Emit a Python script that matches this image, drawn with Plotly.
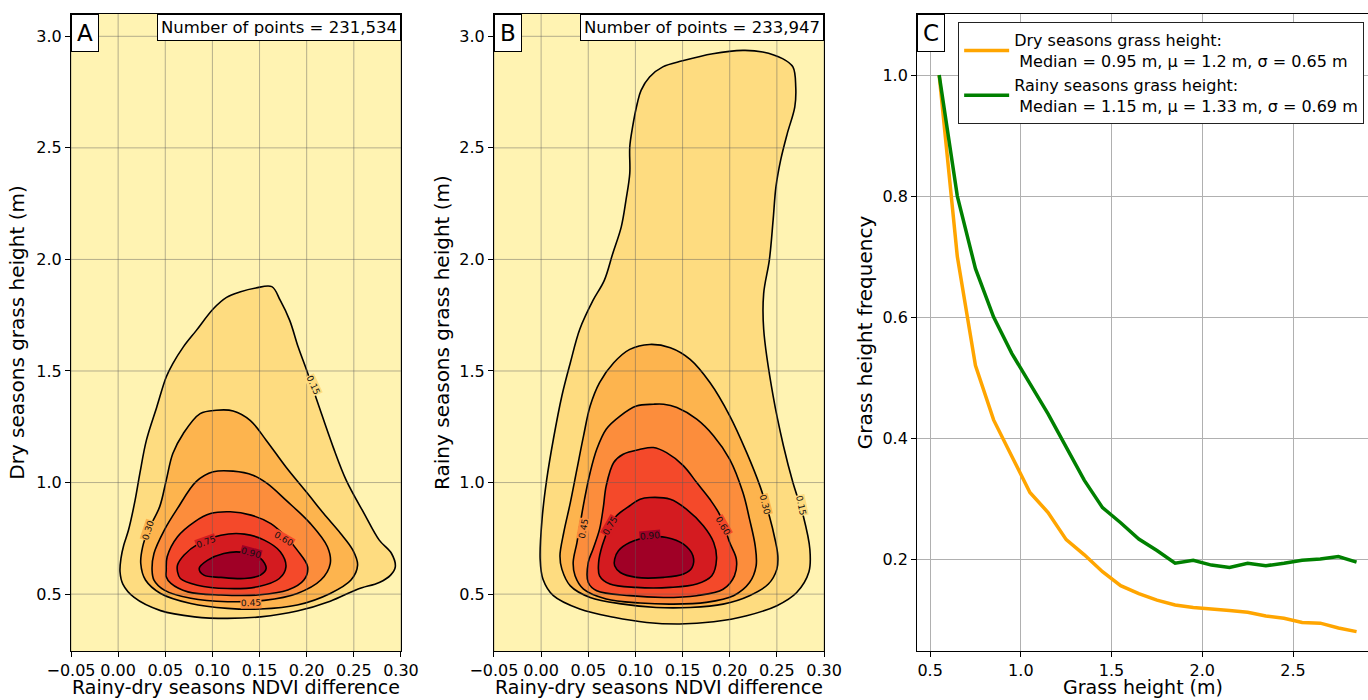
import plotly.graph_objects as go

# ---------------- data ----------------
LEVELS = [0.15, 0.30, 0.45, 0.60, 0.75, 0.90]
LEVEL_TEXT = ["0.15", "0.30", "0.45", "0.60", "0.75", "0.90"]
BAND_COLORS = ["#FFF3B2", "#FEDC80", "#FDB44E", "#FC8D3C", "#F4492A", "#D41B20", "#A00026"]

AB_X_TICKS = [-0.05, 0.00, 0.05, 0.10, 0.15, 0.20, 0.25, 0.30]
AB_Y_TICKS = [0.5, 1.0, 1.5, 2.0, 2.5, 3.0]

# Panel A (dry seasons) KDE contour outlines
A_015_X = [0.146, 0.163, 0.172, 0.182, 0.191, 0.200, 0.212, 0.228, 0.242, 0.261, 0.277, 0.290, 0.294, 0.289, 0.277, 0.254, 0.225, 0.190, 0.151, 0.116, 0.081, 0.045, 0.017, 0.005, 0.002, 0.003, 0.006, 0.011, 0.018, 0.023, 0.030, 0.041, 0.051, 0.058, 0.069, 0.083, 0.101, 0.115, 0.129]
A_015_Y = [1.872, 1.878, 1.816, 1.727, 1.607, 1.503, 1.354, 1.160, 1.010, 0.861, 0.742, 0.682, 0.622, 0.585, 0.552, 0.522, 0.468, 0.424, 0.398, 0.391, 0.398, 0.426, 0.485, 0.545, 0.600, 0.660, 0.720, 0.787, 0.921, 1.040, 1.190, 1.339, 1.473, 1.533, 1.607, 1.682, 1.779, 1.830, 1.854]
A_030_X = [0.104, 0.122, 0.140, 0.157, 0.178, 0.201, 0.218, 0.236, 0.249, 0.254, 0.247, 0.225, 0.190, 0.151, 0.116, 0.077, 0.045, 0.029, 0.024, 0.026, 0.032, 0.044, 0.051, 0.058, 0.069, 0.087]
A_030_Y = [1.324, 1.321, 1.279, 1.190, 1.070, 0.951, 0.861, 0.772, 0.697, 0.630, 0.563, 0.503, 0.451, 0.433, 0.436, 0.458, 0.503, 0.563, 0.637, 0.712, 0.787, 0.891, 1.010, 1.130, 1.219, 1.309]
A_045_X = [0.101, 0.122, 0.143, 0.158, 0.178, 0.204, 0.222, 0.225, 0.215, 0.190, 0.155, 0.116, 0.077, 0.049, 0.038, 0.036, 0.038, 0.049, 0.063, 0.083]
A_045_Y = [1.048, 1.051, 1.033, 0.996, 0.921, 0.816, 0.712, 0.637, 0.563, 0.503, 0.472, 0.466, 0.481, 0.518, 0.563, 0.607, 0.682, 0.787, 0.884, 1.005]
A_060_X = [0.098, 0.119, 0.141, 0.162, 0.178, 0.190, 0.201, 0.197, 0.180, 0.148, 0.109, 0.074, 0.056, 0.051, 0.051, 0.052, 0.063, 0.081]
A_060_Y = [0.861, 0.869, 0.854, 0.816, 0.757, 0.697, 0.622, 0.563, 0.518, 0.496, 0.496, 0.510, 0.548, 0.578, 0.607, 0.667, 0.757, 0.824]
A_075_X = [0.109, 0.134, 0.155, 0.172, 0.178, 0.171, 0.148, 0.116, 0.084, 0.066, 0.063, 0.063, 0.070, 0.085]
A_075_Y = [0.764, 0.769, 0.742, 0.690, 0.622, 0.570, 0.533, 0.525, 0.540, 0.570, 0.600, 0.630, 0.675, 0.725]
A_090_X = [0.112, 0.130, 0.151, 0.157, 0.151, 0.134, 0.109, 0.091, 0.086, 0.095]
A_090_Y = [0.682, 0.688, 0.660, 0.615, 0.585, 0.570, 0.575, 0.585, 0.615, 0.652]

# Panel B (rainy seasons)
B_015_X = [0.106, 0.115, 0.129, 0.150, 0.182, 0.214, 0.235, 0.256, 0.267, 0.270, 0.269, 0.261, 0.254, 0.249, 0.246, 0.242, 0.236, 0.236, 0.246, 0.257, 0.267, 0.278, 0.285, 0.284, 0.271, 0.250, 0.218, 0.183, 0.147, 0.112, 0.077, 0.041, 0.013, 0.002, -0.001, 0.001, 0.006, 0.013, 0.022, 0.031, 0.041, 0.055, 0.067, 0.076, 0.085, 0.090, 0.094, 0.094, 0.097, 0.102]
B_015_Y = [2.758, 2.818, 2.863, 2.890, 2.922, 2.937, 2.930, 2.900, 2.863, 2.773, 2.684, 2.564, 2.445, 2.325, 2.176, 1.997, 1.848, 1.687, 1.388, 1.164, 1.000, 0.850, 0.700, 0.600, 0.507, 0.448, 0.403, 0.376, 0.366, 0.373, 0.396, 0.433, 0.493, 0.567, 0.657, 0.836, 1.015, 1.194, 1.388, 1.537, 1.687, 1.816, 1.906, 2.027, 2.146, 2.266, 2.385, 2.504, 2.594, 2.700]
B_030_X = [0.115, 0.137, 0.158, 0.179, 0.200, 0.218, 0.232, 0.242, 0.248, 0.251, 0.250, 0.241, 0.221, 0.193, 0.158, 0.122, 0.087, 0.052, 0.031, 0.022, 0.020, 0.024, 0.031, 0.038, 0.045, 0.052, 0.062, 0.077, 0.094]
B_030_Y = [1.619, 1.604, 1.552, 1.448, 1.299, 1.134, 0.985, 0.850, 0.746, 0.672, 0.612, 0.545, 0.493, 0.455, 0.440, 0.440, 0.455, 0.485, 0.537, 0.612, 0.672, 0.776, 0.910, 1.060, 1.209, 1.343, 1.448, 1.537, 1.597]
B_045_X = [0.119, 0.130, 0.144, 0.165, 0.183, 0.200, 0.214, 0.221, 0.227, 0.228, 0.221, 0.204, 0.175, 0.140, 0.105, 0.069, 0.045, 0.036, 0.034, 0.038, 0.042, 0.046, 0.052, 0.059, 0.069, 0.084, 0.101]
B_045_Y = [1.351, 1.351, 1.336, 1.284, 1.209, 1.104, 0.955, 0.836, 0.716, 0.627, 0.552, 0.493, 0.463, 0.455, 0.460, 0.478, 0.522, 0.582, 0.642, 0.731, 0.830, 0.925, 1.045, 1.149, 1.239, 1.299, 1.343]
B_060_X = [0.105, 0.119, 0.133, 0.151, 0.165, 0.179, 0.190, 0.200, 0.207, 0.205, 0.193, 0.165, 0.130, 0.094, 0.059, 0.050, 0.050, 0.055, 0.062, 0.066, 0.069, 0.077, 0.087]
B_060_Y = [1.149, 1.157, 1.134, 1.075, 1.000, 0.925, 0.851, 0.731, 0.657, 0.582, 0.522, 0.493, 0.485, 0.493, 0.515, 0.552, 0.642, 0.701, 0.791, 0.890, 0.985, 1.090, 1.127]
B_075_X = [0.115, 0.137, 0.154, 0.172, 0.183, 0.186, 0.181, 0.165, 0.137, 0.101, 0.073, 0.062, 0.061, 0.065, 0.073, 0.080, 0.094, 0.105]
B_075_Y = [0.933, 0.925, 0.881, 0.806, 0.731, 0.657, 0.582, 0.545, 0.530, 0.530, 0.545, 0.582, 0.642, 0.720, 0.806, 0.851, 0.896, 0.925]
B_090_X = [0.094, 0.115, 0.133, 0.151, 0.161, 0.160, 0.151, 0.130, 0.101, 0.084, 0.078, 0.078, 0.082]
B_090_Y = [0.731, 0.755, 0.754, 0.724, 0.672, 0.619, 0.590, 0.575, 0.575, 0.597, 0.627, 0.657, 0.694]

# contour label positions (same order as LEVELS)
A_LABEL_X = [0.2067, 0.032, 0.141, 0.176, 0.093, 0.141]
A_LABEL_Y = [1.436, 0.787, 0.461, 0.749, 0.734, 0.684]
A_LABEL_ANGLE = [65, -72, -2, 30, -20, 15]
B_LABEL_X = [0.276, 0.237, 0.045, 0.193, 0.073, 0.115]
B_LABEL_Y = [0.896, 0.903, 0.791, 0.806, 0.806, 0.761]
B_LABEL_ANGLE = [78, 75, -80, 60, -60, -5]

A_POINTS = "Number of points = 231,534"
B_POINTS = "Number of points = 233,947"

# Panel C frequencies
GRASS_H = [0.55, 0.65, 0.75, 0.85, 0.95, 1.05, 1.15, 1.25, 1.35, 1.45, 1.55, 1.65,
           1.75, 1.85, 1.95, 2.05, 2.15, 2.25, 2.35, 2.45, 2.55, 2.65, 2.75, 2.85]
DRY_FREQ = [1.0, 0.70, 0.52, 0.43, 0.37, 0.31, 0.277, 0.232, 0.207, 0.179, 0.156, 0.143,
            0.132, 0.124, 0.120, 0.118, 0.115, 0.112, 0.106, 0.102, 0.095, 0.094, 0.086, 0.080]
RAINY_FREQ = [1.0, 0.80, 0.68, 0.60, 0.54, 0.49, 0.44, 0.385, 0.33, 0.285, 0.26, 0.233,
              0.214, 0.193, 0.198, 0.190, 0.186, 0.193, 0.189, 0.193, 0.198, 0.200, 0.204, 0.195]
DRY_NAME = "Dry seasons grass height:<br>\u00a0Median = 0.95 m, \u03bc = 1.2 m, \u03c3 = 0.65 m"
RAINY_NAME = "Rainy seasons grass height:<br>\u00a0Median = 1.15 m, \u03bc = 1.33 m, \u03c3 = 0.69 m"
C_X_TICKS = [0.5, 1.0, 1.5, 2.0, 2.5]
C_Y_TICKS = [0.2, 0.4, 0.6, 0.8, 1.0]

X_TITLES = ["Rainy-dry seasons NDVI difference", "Rainy-dry seasons NDVI difference", "Grass height (m)"]

A_OUTLINES = [(A_015_X, A_015_Y), (A_030_X, A_030_Y), (A_045_X, A_045_Y),
              (A_060_X, A_060_Y), (A_075_X, A_075_Y), (A_090_X, A_090_Y)]
B_OUTLINES = [(B_015_X, B_015_Y), (B_030_X, B_030_Y), (B_045_X, B_045_Y),
              (B_060_X, B_060_Y), (B_075_X, B_075_Y), (B_090_X, B_090_Y)]

# ---------------- figure ----------------
FONT = "DejaVu Sans"
fig = go.Figure()

def add_panel(outlines, xa, ya):
    for i, (xs, ys) in enumerate(outlines):
        fig.add_trace(go.Scatter(
            x=list(xs) + [xs[0]], y=list(ys) + [ys[0]],
            mode="lines", fill="toself", fillcolor=BAND_COLORS[i + 1],
            line=dict(color="black", width=1.6, shape="spline", smoothing=1.0),
            xaxis=xa, yaxis=ya, showlegend=False, hoverinfo="skip"))

add_panel(A_OUTLINES, "x", "y")
add_panel(B_OUTLINES, "x2", "y2")

fig.add_trace(go.Scatter(x=GRASS_H, y=DRY_FREQ, mode="lines", name=DRY_NAME,
                         line=dict(color="#FFA500", width=3.5), xaxis="x3", yaxis="y3"))
fig.add_trace(go.Scatter(x=GRASS_H, y=RAINY_FREQ, mode="lines", name=RAINY_NAME,
                         line=dict(color="#008000", width=3.5), xaxis="x3", yaxis="y3"))

shapes = []
annotations = []
for xa, ya, lx, ly, lang, pts, letter in [
        ("x", "y", A_LABEL_X, A_LABEL_Y, A_LABEL_ANGLE, A_POINTS, "A"),
        ("x2", "y2", B_LABEL_X, B_LABEL_Y, B_LABEL_ANGLE, B_POINTS, "B")]:
    shapes.append(dict(type="rect", xref=xa + " domain", yref=ya + " domain",
                       x0=0, x1=1, y0=0, y1=1, fillcolor=BAND_COLORS[0],
                       line=dict(width=0), layer="below"))
    for t in AB_X_TICKS:
        shapes.append(dict(type="line", xref=xa, yref=ya + " domain", x0=t, x1=t, y0=0, y1=1,
                           line=dict(color="rgba(90,90,90,0.45)", width=1), layer="above"))
    for t in AB_Y_TICKS:
        shapes.append(dict(type="line", xref=xa + " domain", yref=ya, x0=0, x1=1, y0=t, y1=t,
                           line=dict(color="rgba(90,90,90,0.45)", width=1), layer="above"))
    for i, txt in enumerate(LEVEL_TEXT):
        annotations.append(dict(x=lx[i], y=ly[i], xref=xa, yref=ya, text=txt, showarrow=False,
                                textangle=lang[i], font=dict(family=FONT, size=9, color="#111"),
                                bgcolor=BAND_COLORS[i + 1], borderpad=0))
    annotations.append(dict(x=1, y=1, xref=xa + " domain", yref=ya + " domain", text=pts,
                            showarrow=False, xanchor="right", yanchor="top",
                            font=dict(family=FONT, size=16.5, color="black"),
                            bgcolor="white", bordercolor="black", borderwidth=1, borderpad=3))
    annotations.append(dict(x=0, y=1, xref=xa + " domain", yref=ya + " domain", text=letter,
                            showarrow=False, xanchor="left", yanchor="top",
                            font=dict(family=FONT, size=23, color="black"),
                            bgcolor="white", bordercolor="black", borderwidth=1, borderpad=5))

annotations.append(dict(x=0, y=1, xref="x3 domain", yref="y3 domain", text="C",
                        showarrow=False, xanchor="left", yanchor="top",
                        font=dict(family=FONT, size=23, color="black"),
                        bgcolor="white", bordercolor="black", borderwidth=1, borderpad=5))

title_font = dict(family=FONT, size=20, color="black")
xtitle_font = dict(family=FONT, size=19, color="black")
for xa, txt in zip(["x", "x2", "x3"], X_TITLES):
    annotations.append(dict(x=0.5, y=-0.0565, xref=xa + " domain", yref="paper", text=txt,
                            showarrow=False, xanchor="center", yanchor="middle",
                            font=xtitle_font))

axis_common = dict(showline=True, linecolor="black", linewidth=1, mirror=True,
                   ticks="outside", ticklen=5, tickcolor="black", zeroline=False,
                   automargin=False,
                   tickfont=dict(family=FONT, size=16, color="black"))

fig.update_layout(
    width=1368, height=700,
    margin=dict(l=71, r=0, t=14, b=49),
    paper_bgcolor="white", plot_bgcolor="white",
    font=dict(family=FONT, color="black"),
    xaxis=dict(domain=[0, 0.2544], range=[-0.05, 0.30], tickvals=AB_X_TICKS, tickformat=".2f",
               showgrid=False, anchor="y", **axis_common),
    yaxis=dict(domain=[0, 1], range=[0.245, 3.1], tickvals=AB_Y_TICKS, tickformat=".1f",
               showgrid=False, anchor="x",
               title=dict(text="Dry seasons grass height (m)", font=title_font, standoff=6),
               **axis_common),
    xaxis2=dict(domain=[0.3261, 0.5806], range=[-0.05, 0.30], tickvals=AB_X_TICKS, tickformat=".2f",
                showgrid=False, anchor="y2", **axis_common),
    yaxis2=dict(domain=[0, 1], range=[0.245, 3.1], tickvals=AB_Y_TICKS, tickformat=".1f",
                showgrid=False, anchor="x2",
                title=dict(text="Rainy seasons grass height (m)", font=title_font, standoff=4),
                **axis_common),
    xaxis3=dict(domain=[0.6523, 1.0], range=[0.428, 2.913], tickvals=C_X_TICKS, tickformat=".1f",
                showgrid=True, gridcolor="#b0b0b0", gridwidth=1, anchor="y3",
                **axis_common),
    yaxis3=dict(domain=[0, 1], range=[0.048, 1.101], tickvals=C_Y_TICKS, tickformat=".1f",
                showgrid=True, gridcolor="#b0b0b0", gridwidth=1, anchor="x3",
                title=dict(text="Grass height frequency", font=title_font, standoff=4),
                **axis_common),
    legend=dict(x=0.684, y=0.987, xanchor="left", yanchor="top", xref="paper", yref="paper",
                bgcolor="white", bordercolor="#222", borderwidth=1, itemwidth=45,
                font=dict(family=FONT, size=16, color="black"), tracegroupgap=2),
    shapes=shapes, annotations=annotations,
)

fig.write_html("out.html", config={"displayModeBar": False},
               post_script="document.body.style.margin='0';document.body.style.overflow='hidden';")
